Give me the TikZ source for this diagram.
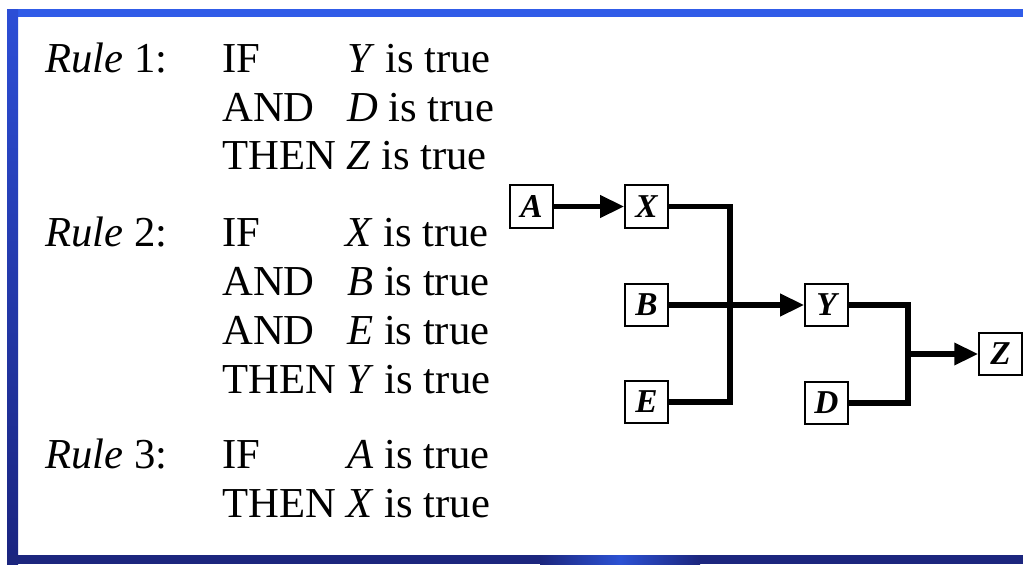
\documentclass[tikz,border=0pt]{standalone}
\usepackage{fontspec}
\setmainfont{Liberation Serif}
\usetikzlibrary{arrows.meta}
\definecolor{barblue}{RGB}{48,92,232}
\definecolor{sidetop}{RGB}{44,78,214}
\definecolor{sidebot}{RGB}{26,36,128}
\definecolor{navy}{RGB}{28,38,126}
\begin{document}
\begin{tikzpicture}[x=0.75pt,y=-0.75pt,
  txt/.style={anchor=base west,inner sep=0pt,font=\fontsize{32}{38}\selectfont},
  var/.style={draw,line width=1.4pt,fill=white,minimum width=32pt,minimum height=32pt,
    inner sep=0pt,font=\fontsize{25}{28}\selectfont\bfseries\itshape},
  conn/.style={line width=4.2pt,line join=miter},
  flow/.style={conn,-{Triangle[length=18pt,width=16pt]}}]
\useasboundingbox (0,0) rectangle (1023,564);
% frame
\fill[white] (0,0) rectangle (1023,564);
\fill[barblue] (7,9) rectangle (1023,17);
\shade[top color=sidetop,bottom color=sidebot] (7,9) rectangle (18,564);
\fill[navy] (7,555) rectangle (1023,564);
\shade[left color=navy,right color=navy,middle color=barblue!80!navy] (540,555) rectangle (700,564);

% rule 1
\node[txt] (r1) at (45,72) {\textit{Rule} 1:};
\node[txt] (r1k1) at (222,72) {IF};
\node[txt] (r1c1) at (347,72) {\textit{Y} is true};
\node[txt] (r1k2) at (222,121) {AND};
\node[txt] (r1c2) at (347,121) {\textit{D} is true};
\node[txt] (r1k3) at (222,169) {THEN \textit{Z} is true};
% rule 2
\node[txt] (r2) at (45,246) {\textit{Rule} 2:};
\node[txt] (r2k1) at (222,246) {IF};
\node[txt] (r2c1) at (345,246) {\textit{X} is true};
\node[txt] (r2k2) at (222,295) {AND};
\node[txt] (r2c2) at (347,295) {\textit{B} is true};
\node[txt] (r2k3) at (222,344) {AND};
\node[txt] (r2c3) at (347,344) {\textit{E} is true};
\node[txt] (r2k4) at (222,393) {THEN \textit{Y} is true};
% rule 3
\node[txt] (r3) at (45,468) {\textit{Rule} 3:};
\node[txt] (r3k1) at (222,468) {IF};
\node[txt] (r3c1) at (347,468) {\textit{A} is true};
\node[txt] (r3k2) at (222,517) {THEN \textit{X} is true};

% inference network
\node[var] (A) at (531.5,206.5) {A};
\node[var] (X) at (646.5,206.5) {X};
\node[var] (B) at (646.5,305) {B};
\node[var] (E) at (646.5,402) {E};
\node[var] (Y) at (826.5,305) {Y};
\node[var] (D) at (826.5,403) {D};
\node[var] (Z) at (1000.5,354) {Z};
\coordinate (j1) at (730,305);
\coordinate (j2) at (908,354);

\draw[flow] (A) -- (X);
\draw[conn] (X.east) -| (j1) |- (E.east);
\draw[flow] (B) -- (Y);
\draw[conn] (Y.east) -| (j2) |- (D.east);
\draw[flow] (j2) -- (Z);
\end{tikzpicture}
\end{document}
